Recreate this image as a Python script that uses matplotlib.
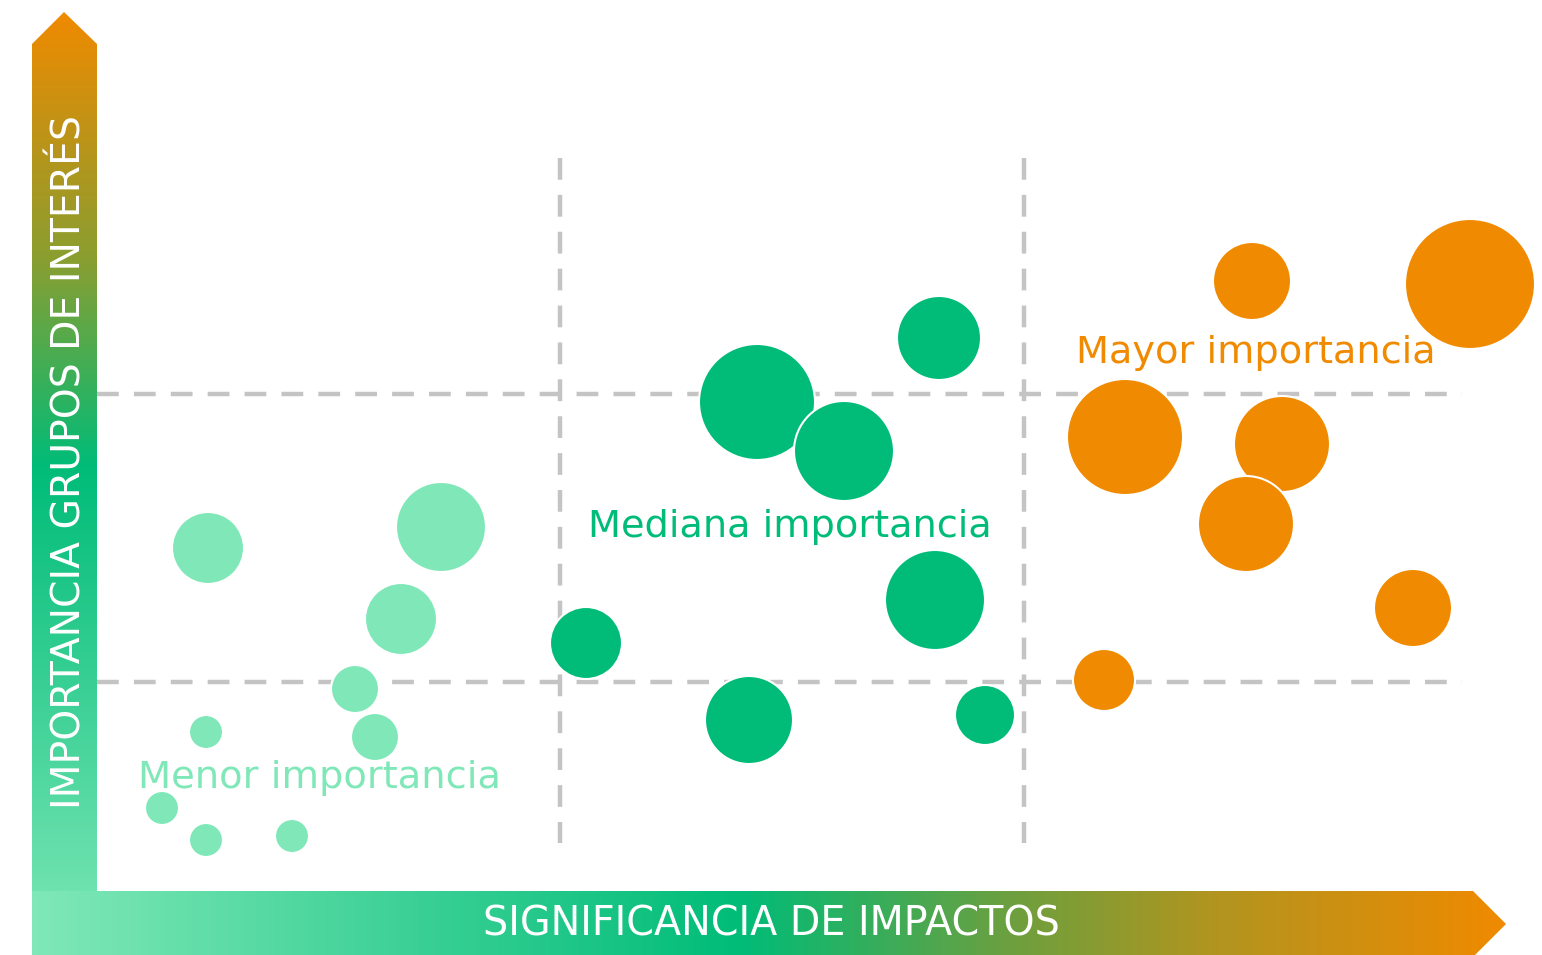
import numpy as np
import matplotlib.pyplot as plt
from matplotlib.patches import Polygon, Circle
from matplotlib.colors import LinearSegmentedColormap

# Bubble data (significance, importance, radius)
menor_x = [208, 441, 401, 355, 375, 206, 162, 206, 292]
menor_y = [548, 527, 619, 689, 737, 732, 808, 840, 836]
menor_r = [36, 45, 36, 24, 24, 17, 17, 17, 17]

mediana_x = [757, 844, 939, 935, 586, 749, 985]
mediana_y = [402, 451, 338, 600, 643, 720, 715]
mediana_r = [58, 50, 42, 50, 36, 44, 30]

mayor_x = [1470, 1252, 1125, 1282, 1246, 1413, 1104]
mayor_y = [284, 281, 437, 444, 524, 608, 680]
mayor_r = [65, 39, 58, 48, 48, 39, 31]

grid_x = [560, 1024]
grid_y = [394, 682]

LIGHT = "#80E8B8"
GREEN = "#00BC78"
ORANGE = "#F08A00"

W, H = 1542, 955
fig = plt.figure(figsize=(W / 100, H / 100), dpi=100)
ax = fig.add_axes([0, 0, 1, 1])
ax.set_xlim(0, W)
ax.set_ylim(H, 0)
ax.axis("off")

# gradient arrows
vcmap = LinearSegmentedColormap.from_list(
    "v", [(0, ORANGE), (0.26, "#8A9E30"), (0.48, GREEN), (1, LIGHT)])
hcmap = LinearSegmentedColormap.from_list(
    "h", [(0, LIGHT), (0.48, GREEN), (0.66, "#6AA040"), (0.8, "#B09520"), (1, ORANGE)])

varrow = Polygon([(32, 960), (32, 44), (64, 12), (97, 44), (97, 960)], closed=True,
                 facecolor="none", edgecolor="none")
ax.add_patch(varrow)
grad = np.linspace(0, 1, 256).reshape(-1, 1)
im = ax.imshow(grad, cmap=vcmap, extent=(32, 97, 960, 12), aspect="auto", zorder=1)
im.set_clip_path(varrow)

harrow = Polygon([(32, 891), (1473, 891), (1506, 924), (1473, 957), (32, 957)], closed=True,
                 facecolor="none", edgecolor="none")
ax.add_patch(harrow)
im2 = ax.imshow(grad.T, cmap=hcmap, extent=(32, 1506, 957, 891), aspect="auto", zorder=2)
im2.set_clip_path(harrow)

ax.text(771, 924, "SIGNIFICANCIA DE IMPACTOS", color="white", fontsize=28.5,
        ha="center", va="center", zorder=3)
ax.text(70, 462, "IMPORTANCIA GRUPOS DE INTERÉS", color="white", fontsize=28.3,
        rotation=90, ha="center", va="center", zorder=3)

# dashed grid
for gy in grid_y:
    ax.plot([97, 1462], [gy, gy], color="#C4C4C4", lw=3.2, dashes=(4.9, 3.4), zorder=3)
for gx in grid_x:
    ax.plot([gx, gx], [158, 843], color="#C4C4C4", lw=3.2, dashes=(4.9, 3.4), zorder=3)

# bubbles
for xs, ys, rs, c in [(menor_x, menor_y, menor_r, LIGHT),
                      (mediana_x, mediana_y, mediana_r, GREEN),
                      (mayor_x, mayor_y, mayor_r, ORANGE)]:
    for x, y, r in zip(xs, ys, rs):
        ax.add_patch(Circle((x, y), r, facecolor=c, edgecolor="white", lw=1.5, zorder=4))

ax.text(320, 778, "Menor importancia", color=LIGHT, fontsize=27.6, ha="center", va="center", zorder=5)
ax.text(790, 527, "Mediana importancia", color=GREEN, fontsize=27.5, ha="center", va="center", zorder=5)
ax.text(1256, 353, "Mayor importancia", color=ORANGE, fontsize=27.5, ha="center", va="center", zorder=5)

fig.savefig("out.png", dpi=100)
